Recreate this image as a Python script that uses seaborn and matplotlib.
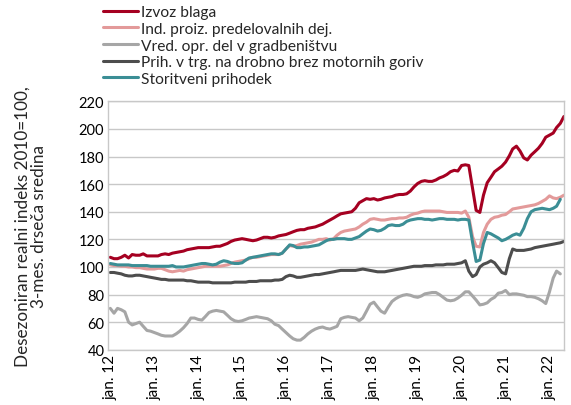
import numpy as np
import pandas as pd
import matplotlib
matplotlib.use("Agg")
import matplotlib.pyplot as plt
import matplotlib.dates as mdates
import seaborn as sns

sns.set_style("white")
plt.rcParams['font.family'] = ['Lato', 'DejaVu Sans']

# monthly values, jan 2012 onwards (one row per year)
izvoz_blaga = [
    107, 106, 106, 107, 108.5, 106.5, 109, 108.5, 108.5, 109.5, 108, 108,
    108, 108, 109, 109.5, 109, 110, 110.5, 111, 111.5, 112.5, 113, 113.5,
    114, 114, 114, 114, 114.5, 115, 115, 116, 117, 118.5, 119.5, 120,
    120.5, 120, 119.5, 119, 119.5, 120.5, 121.5, 121.5, 121, 121.5, 122.5, 123,
    123.5, 124.5, 125.5, 126.5, 127, 127, 128, 128.5, 129, 130, 131, 132.5,
    134, 135.5, 137, 138.5, 139, 139.5, 140, 142.5, 146.5, 148, 149.5, 149,
    149.5, 148.5, 149, 150, 150.5, 151, 152, 152.5, 152.5, 153, 155, 158,
    160.5, 162, 162.5, 162, 162, 163, 164.5, 165.5, 167, 169, 170, 169.5,
    173.5, 174, 173.5, 157, 141, 139.5, 152, 161, 165, 169, 171, 173,
    176, 180.5, 185.5, 187.5, 184, 179, 177.5, 181, 183.5, 186, 189.5, 194,
    195.5, 197, 201, 204, 209,
]
ind_proiz = [
    101.5, 101, 101, 100.5, 100.5, 100, 100, 99.5, 99.5, 99, 98.5, 98.5,
    98.5, 99, 99, 98, 97, 96.5, 97, 97.5, 97, 98, 98.5, 99,
    99.5, 100, 100.5, 100.5, 100.5, 100.5, 100.5, 101, 101.5, 102.5, 103.5, 104,
    104.5, 105, 106, 107, 107, 107.5, 108, 108.5, 109, 109, 109, 110,
    113, 115.5, 115, 115.5, 116.5, 117, 117.5, 118, 119, 120, 120, 120.5,
    119.5, 120.5, 123, 125, 126, 126.5, 127, 127.5, 129, 131, 132.5, 134.5,
    135, 134.5, 134, 134, 134.5, 135, 135, 135.5, 135.5, 136, 137.5, 138.5,
    139, 140, 140.5, 140.5, 140.5, 140.5, 140.5, 140, 139.5, 139.5, 139.5, 139.5,
    139, 140.5, 136, 122, 115, 114.5, 125, 131, 134.5, 136, 136.5, 137.5,
    138, 140, 142, 142.5, 143, 143.5, 144, 144.5, 145, 146, 147.5, 149,
    151.5, 150, 149.5, 150.5, 152,
]
gradbenistvo = [
    70, 66.5, 70, 69, 67.5, 60, 58, 59, 60, 57, 54, 53.5,
    52.5, 51.5, 50.5, 50, 50, 50, 51.5, 53.5, 56, 59, 63, 63,
    62, 61.5, 64, 67, 68, 68.5, 68, 67.5, 65, 62.5, 61, 60.5,
    61, 62, 63, 63.5, 64, 63.5, 63, 62.5, 61, 58.5, 57.5, 55,
    52.5, 50, 48, 47, 47, 49, 51.5, 53.5, 55, 56, 56.5, 55.5,
    55, 56, 57, 62.5, 63.5, 64, 63.5, 63, 61, 63, 68, 73,
    74.5, 71, 68, 66.5, 71, 75, 77, 78.5, 79.5, 80, 79.5, 78.5,
    78, 79, 80.5, 81, 81.5, 81.5, 80, 78, 76, 75.5, 76, 77.5,
    79.5, 82, 82, 79, 76, 72.5, 73, 74, 76.5, 78, 81, 81.5,
    83, 80, 80.5, 80.5, 80, 79.5, 78.5, 78.5, 78, 77, 75.5, 73.5,
    82, 92, 97, 95,
]
trgovina = [
    96, 96, 95.5, 95, 94, 93.5, 93.5, 94, 94, 93.5, 93, 92.5,
    92, 91.5, 91, 91, 90.5, 90.5, 90.5, 90.5, 90.5, 90, 90, 89.5,
    89, 89, 89, 89, 88.5, 88.5, 88.5, 88.5, 88.5, 88.5, 89, 89,
    89, 89, 89.5, 89.5, 89.5, 90, 90, 90, 90, 90.5, 90.5, 91,
    93, 94, 93.5, 92.5, 92.5, 93, 93.5, 94, 94.5, 94.5, 95, 95.5,
    96, 96.5, 97, 97.5, 97.5, 97.5, 97.5, 97.5, 98, 98.5, 98, 97.5,
    97, 96.5, 96.5, 96.5, 97, 97.5, 98, 98.5, 99, 99.5, 100, 100.5,
    100.5, 100.5, 101, 101, 101, 101.5, 101.5, 101.5, 102, 102, 102, 102.5,
    103, 104.5, 97, 93, 94.5, 100, 102, 103, 104.5, 103, 99.5, 96,
    95, 106, 113, 112, 112, 112, 112.5, 113, 114, 114.5, 115, 115.5,
    116, 116.5, 117, 117.5, 118.5,
]
storitve = [
    102.5, 102, 101.5, 101.5, 101.5, 101.5, 101, 101, 101, 101, 101, 100.5,
    100.5, 100.5, 100.5, 100.5, 100.5, 101, 100, 100, 100, 100.5, 101, 101.5,
    102, 102.5, 102.5, 102, 101.5, 102, 103.5, 104.5, 104, 103, 102.5, 102.5,
    103, 105, 106.5, 107, 107.5, 108, 108.5, 109, 109.5, 109.5, 109, 110,
    113, 116, 115.5, 114, 114, 114.5, 114.5, 115, 115.5, 116, 117.5, 119,
    120, 120, 120.5, 120.5, 120.5, 120, 120, 121, 122, 124, 126, 127.5,
    127, 126, 126.5, 128, 130, 130.5, 130, 130, 131, 133, 134, 134.5,
    135, 135, 134.5, 134.5, 134, 134.5, 135, 135, 134.5, 134.5, 134.5, 134,
    134.5, 134.5, 134, 118, 104, 105, 117, 125, 124, 122.5, 121, 119,
    120, 121.5, 123, 124, 123, 128, 135, 140, 141.5, 142, 142.5, 142,
    141.5, 142.5, 144, 149,
]

names = ["Izvoz blaga", "Ind. proiz. predelovalnih dej.", "Vred. opr. del v gradbeništvu",
         "Prih. v trg. na drobno brez motornih goriv", "Storitveni prihodek"]
colors = ["#A50021", "#E39A9A", "#A6A6A6", "#4D4D4D", "#3B8E95"]
series = [izvoz_blaga, ind_proiz, gradbenistvo, trgovina, storitve]

frames = []
for name, vals in zip(names, series):
    frames.append(pd.DataFrame({
        "date": pd.date_range("2012-01-01", periods=len(vals), freq="MS"),
        "value": vals,
        "series": name,
    }))
df = pd.concat(frames, ignore_index=True)

fig = plt.figure(figsize=(5.71, 4.06), dpi=100)
ax = fig.add_axes([0.19, 0.136, 0.798, 0.612])

sns.lineplot(data=df, x="date", y="value", hue="series", hue_order=names,
             palette=dict(zip(names, colors)), linewidth=2.2, ax=ax, legend=False)

ax.set_ylim(40, 220)
ax.set_yticks(range(40, 221, 20))
ax.set_xlim(pd.Timestamp("2011-12-17"), pd.Timestamp("2022-05-03"))
ticks = pd.date_range("2012-01-01", "2022-01-01", freq="YS")
ax.set_xticks(ticks)
ax.set_xticklabels([f"jan. {d:%y}" for d in ticks], rotation=90)
ax.tick_params(axis="both", length=0, labelsize=11, colors="black", pad=3)
ax.tick_params(axis="y", labelsize=10.5)
ax.grid(axis="y", color="#C8C8C8", linewidth=1)
ax.set_axisbelow(True)
for sp in ax.spines.values():
    sp.set_color("#C8C8C8")
    sp.set_linewidth(1)
ax.set_xlabel("")
ax.set_ylabel("Desezoniran realni indeks 2010=100,\n3-mes. drseča sredina",
              fontsize=12.3, labelpad=23, linespacing=1.05)

handles = [plt.Line2D([], [], color=c, linewidth=2.2) for c in colors]
fig.legend(handles, names, loc="upper left", bbox_to_anchor=(0.17, 1.0),
           frameon=False, fontsize=11.2, handlelength=2.2, handletextpad=0.2,
           labelspacing=0.17, borderaxespad=0)

fig.savefig("out.png", dpi=100)
